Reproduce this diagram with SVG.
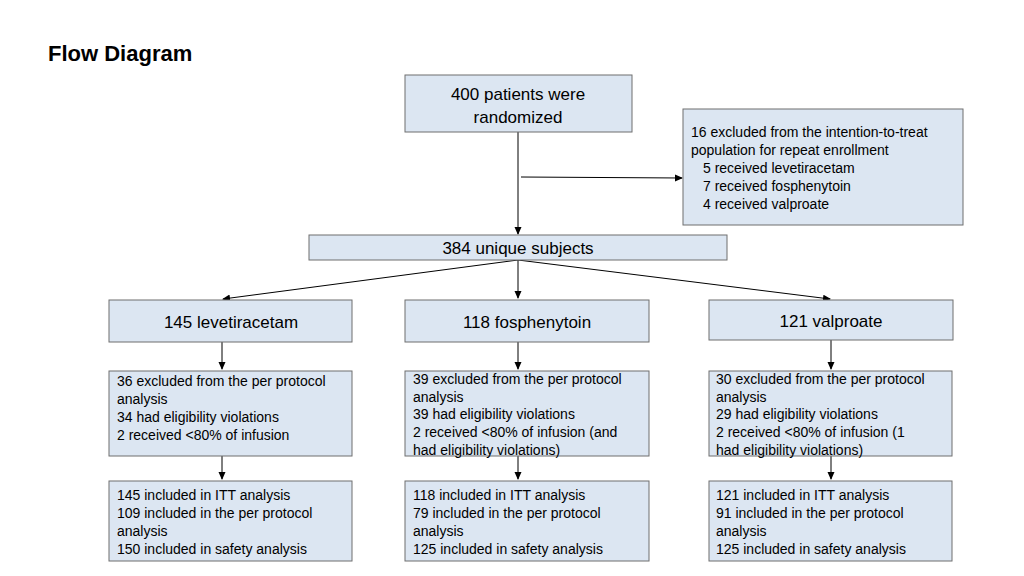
<svg xmlns="http://www.w3.org/2000/svg" width="1024" height="576" viewBox="0 0 1024 576">
<style>
.b{fill:#dce6f2;stroke:#6f6f6f;stroke-width:1}
text{font-family:"Liberation Sans",Arial,sans-serif;fill:#000}
.t{font-size:14px}
.m{font-size:17px;text-anchor:middle}
.c{stroke:#000;stroke-width:1;fill:none;marker-end:url(#a)}
</style>
<defs><marker id="a" markerWidth="8" markerHeight="8" refX="7" refY="4" orient="auto" markerUnits="userSpaceOnUse"><path d="M0,0.5 L8,4 L0,7.5 Z" fill="#000"/></marker></defs>
<rect width="1024" height="576" fill="#fff"/>
<text x="48" y="61" style="font-size:22px;font-weight:bold">Flow Diagram</text>
<g id="connectors">
<path class="c" d="M518,132 V234"/>
<path class="c" d="M521,177 L682,178"/>
<path class="c" d="M518,260 L223,299"/>
<path class="c" d="M518,260 V298"/>
<path class="c" d="M518,260 L830,299"/>
<path class="c" d="M222,342 V369"/>
<path class="c" d="M518,342 V369"/>
<path class="c" d="M831,340 V369"/>
<path class="c" d="M222,456 V479"/>
<path class="c" d="M518,456 V479"/>
<path class="c" d="M831,456 V479"/>
</g>
<g id="n400"><rect class="b" x="405" y="75" width="227" height="57"/><text class="m" x="518" y="100">400 patients were</text><text class="m" x="518" y="123">randomized</text></g>
<g id="nexcl"><rect class="b" x="683" y="109" width="280" height="116"/><text class="t" x="691" y="137">16 excluded from the intention-to-treat</text><text class="t" x="691" y="155">population for repeat enrollment</text><text class="t" x="703" y="173">5 received levetiracetam</text><text class="t" x="703" y="191">7 received fosphenytoin</text><text class="t" x="703" y="209">4 received valproate</text></g>
<g id="n384"><rect class="b" x="309" y="235" width="418" height="25"/><text class="m" x="518" y="254">384 unique subjects</text></g>
<g id="nlev"><rect class="b" x="109" y="300" width="243" height="42"/><text class="m" x="231" y="328">145 levetiracetam</text></g>
<g id="nfos"><rect class="b" x="405" y="300" width="244" height="42"/><text class="m" x="527" y="328">118 fosphenytoin</text></g>
<g id="nval"><rect class="b" x="709" y="300" width="244" height="40"/><text class="m" x="831" y="327">121 valproate</text></g>
<g id="elev"><rect class="b" x="109" y="371" width="243" height="85"/><text class="t" x="117" y="386">36 excluded from the per protocol</text><text class="t" x="117" y="404">analysis</text><text class="t" x="117" y="422">34 had eligibility violations</text><text class="t" x="117" y="440">2 received &lt;80% of infusion</text></g>
<g id="efos"><rect class="b" x="405" y="371" width="244" height="85"/><text class="t" x="413" y="384">39 excluded from the per protocol</text><text class="t" x="413" y="402">analysis</text><text class="t" x="413" y="419">39 had eligibility violations</text><text class="t" x="413" y="437">2 received &lt;80% of infusion (and</text><text class="t" x="413" y="455">had eligibility violations)</text></g>
<g id="eval"><rect class="b" x="709" y="371" width="243" height="85"/><text class="t" x="716" y="384">30 excluded from the per protocol</text><text class="t" x="716" y="402">analysis</text><text class="t" x="716" y="419">29 had eligibility violations</text><text class="t" x="716" y="437">2 received &lt;80% of infusion (1</text><text class="t" x="716" y="455">had eligibility violations)</text></g>
<g id="ilev"><rect class="b" x="109" y="481" width="243" height="80"/><text class="t" x="117" y="500">145 included in ITT analysis</text><text class="t" x="117" y="518">109 included in the per protocol</text><text class="t" x="117" y="536">analysis</text><text class="t" x="117" y="554">150 included in safety analysis</text></g>
<g id="ifos"><rect class="b" x="405" y="481" width="244" height="80"/><text class="t" x="413" y="500">118 included in ITT analysis</text><text class="t" x="413" y="518">79 included in the per protocol</text><text class="t" x="413" y="536">analysis</text><text class="t" x="413" y="554">125 included in safety analysis</text></g>
<g id="ival"><rect class="b" x="709" y="481" width="243" height="80"/><text class="t" x="716" y="500">121 included in ITT analysis</text><text class="t" x="716" y="518">91 included in the per protocol</text><text class="t" x="716" y="536">analysis</text><text class="t" x="716" y="554">125 included in safety analysis</text></g>
</svg>
